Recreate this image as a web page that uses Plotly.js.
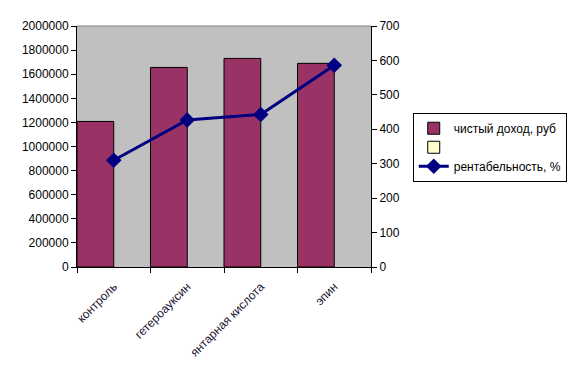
<!DOCTYPE html>
<html>
<head>
<meta charset="utf-8">
<script src="https://cdn.plot.ly/plotly-3.0.1.min.js"></script>
<style>html,body{margin:0;padding:0;background:#fff;}#chart{width:579px;height:383px;}</style>
</head>
<body>
<div id="chart"></div>
<script>
const categories = ["контроль", "гетероауксин", "янтарная кислота", "эпин"];
const incomeName = "чистый доход, руб";
const income = [1208000, 1656000, 1731000, 1690000];
const emptyName = "";
const emptySeries = [null, null, null, null];
const profitName = "рентабельность, %";
const profitability = [310, 427, 443, 586];
const leftTicks = [0, 200000, 400000, 600000, 800000, 1000000, 1200000, 1400000, 1600000, 1800000, 2000000];
const rightTicks = [0, 100, 200, 300, 400, 500, 600, 700];

const font = {family: "Arial, 'Liberation Sans', sans-serif", size: 12, color: "#000"};

const traces = [
  {type: "bar", x: categories, y: income, name: incomeName,
   marker: {color: "#993366", line: {color: "#000", width: 1}},
   offsetgroup: "a", hoverinfo: "none"},
  {type: "bar", x: categories, y: emptySeries, name: emptyName,
   marker: {color: "#FFFFCC", line: {color: "#000", width: 1}},
   offsetgroup: "b", showlegend: true, hoverinfo: "none"},
  {type: "scatter", mode: "lines+markers", x: categories, y: profitability, name: profitName,
   yaxis: "y2", line: {color: "#000080", width: 3},
   marker: {symbol: "diamond", size: 12, color: "#000080"}, hoverinfo: "none"}
];

const layout = {
  width: 579, height: 383,
  margin: {l: 77, r: 206, t: 26, b: 116, pad: 0},
  paper_bgcolor: "#fff", plot_bgcolor: "#C0C0C0",
  font: font,
  barmode: "group", bargap: 0, bargroupgap: 0,
  showlegend: true,
  legend: {x: 1.142, y: 0.64, xanchor: "left", yanchor: "top",
    bgcolor: "#fff", bordercolor: "#000", borderwidth: 1,
    font: {family: font.family, size: 12, color: "#000"},
    traceorder: "normal", itemwidth: 30, tracegroupgap: 0},
  xaxis: {type: "category", tickangle: -45, tickson: "boundaries",
    ticks: "outside", ticklen: 5, tickcolor: "#000", showline: true, linecolor: "#000", linewidth: 1,
    ticklabelstandoff: 7,
    showgrid: false, zeroline: false, tickfont: {family: font.family, size: 12, color: "#1a1030"}},
  yaxis: {range: [0, 2000000], tickvals: leftTicks, tickformat: "d",
    ticks: "outside", ticklen: 5, tickcolor: "#000", showline: true, linecolor: "#000", linewidth: 1,
    showgrid: false, zeroline: false, tickfont: font},
  yaxis2: {range: [0, 700], tickvals: rightTicks, overlaying: "y", side: "right",
    ticks: "outside", ticklen: 5, tickcolor: "#000", showline: true, linecolor: "#000", linewidth: 1,
    showgrid: false, zeroline: false, tickfont: font},
  shapes: [{type: "line", xref: "paper", yref: "paper", x0: 0, x1: 1, y0: 1, y1: 1,
    line: {color: "#808080", width: 1}}]
};

Plotly.newPlot("chart", traces, layout, {staticPlot: true, displayModeBar: false});
</script>
</body>
</html>
